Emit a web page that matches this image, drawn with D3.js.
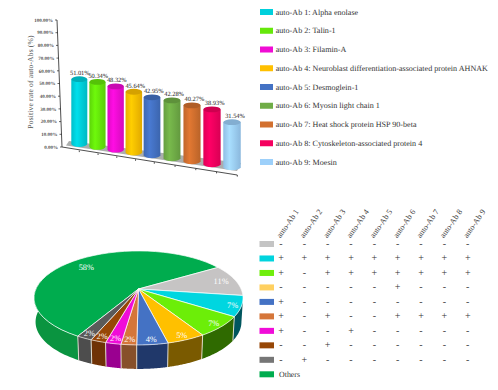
<!DOCTYPE html>
<html>
<head>
<meta charset="utf-8">
<script src="https://cdn.jsdelivr.net/npm/d3@7"></script>
<style>
  html, body { margin: 0; padding: 0; background: #fff; }
  svg { display: block; }
  text { font-family: "Liberation Serif", serif; text-rendering: geometricPrecision; }
</style>
</head>
<body>
<svg id="chart" width="498" height="390"></svg>
<script>
// bar chart values
const antigens = ["Alpha enolase", "Talin-1", "Filamin-A",
  "Neuroblast differentiation-associated protein AHNAK", "Desmoglein-1",
  "Myosin light chain 1", "Heat shock protein HSP 90-beta",
  "Cytoskeleton-associated protein 4", "Moesin"];
const positiveRate = [51.01, 50.34, 48.32, 45.64, 42.95, 42.28, 40.27, 38.93, 31.54];
const barColors = ["#00d0dc", "#66e80a", "#f00cd4", "#ffc000", "#4472c4", "#70ad47", "#d2702f", "#f5005f", "#9dd0fa"];
const rateTicks = [0, 10, 20, 30, 40, 50, 60, 70, 80, 90, 100];

// pie values, clockwise starting from the big green slice
const pieShares = [58, 11, 7, 7, 5, 4, 2, 2, 2, 2];
const pieColors = ["#00ac4e", "#c6c4c4", "#00d6e0", "#6cee08", "#ffc000", "#4472c4", "#d5763a", "#f00cd8", "#974706", "#5a5a5a"];
const pieWalls = ["#0a9440", "#8a8a8a", "#00565e", "#2f6a00", "#7a5a00", "#20386a", "#87502a", "#9a0090", "#6f3206", "#4d4d4d"];

// combination table
const comboColors = ["#c4c4c4", "#00d4de", "#70ee0c", "#ffd060", "#4472c4", "#d5763a", "#f00cd8", "#974706", "#767676", "#00ad4f"];
const comboRows = [
  "---------",
  "+++++++++",
  "+-+++++++",
  "-----+---",
  "+--------",
  "+-+--++++",
  "+--+-----",
  "--+------",
  "-+-------"
];

const svg = d3.select("#chart");
const defs = svg.append("defs");

// ---- 3D bars ----
const yAxisScale = d3.scaleLinear().domain([0, 100]).range([147, 20]);
const axisXAt = d3.scaleLinear().domain([0, 100]).range([62, 57]);
const barX = d3.scaleLinear().domain([0, 4, 8]).range([79.3, 152, 232]);
const barBase = d3.scaleLinear().domain([0, 4, 8]).range([144, 155.3, 167.3]);
const barWidth = d3.scaleLinear().domain([0, 8]).range([16, 17.5]);
// bars nearer to the viewer look taller
const pxPerPercent = d3.scaleLinear().domain([0, 8]).range([1.27, 1.43]);
const labelShift = d3.scaleLinear().domain([0, 8]).range([0.5, 3]);
const floorTick = d3.scaleLinear().domain([0, 4, 8]).range([79.3, 154.3, 237.3]);
const floorY = d3.scaleLinear().domain([79.3, 237.3]).range([150.5, 175]);

// floor shadow under the bars
svg.append("path")
  .attr("d", d3.line()([[69, 141], [241, 163], [237, 171], [66, 145.5]]))
  .attr("fill", "#8f9392")
  .attr("opacity", 0.75);

// axes
svg.append("line")
  .attr("x1", axisXAt(0)).attr("y1", yAxisScale(0))
  .attr("x2", axisXAt(100)).attr("y2", yAxisScale(100))
  .attr("stroke", "#222").attr("stroke-width", 0.8);
svg.append("line")
  .attr("x1", 62).attr("y1", 147)
  .attr("x2", 237.3).attr("y2", 175)
  .attr("stroke", "#222").attr("stroke-width", 0.8);

const yTicks = svg.append("g").selectAll("g").data(rateTicks).enter().append("g");
yTicks.append("line")
  .attr("x1", (d) => axisXAt(d) - 2).attr("x2", (d) => axisXAt(d))
  .attr("y1", (d) => yAxisScale(d)).attr("y2", (d) => yAxisScale(d))
  .attr("stroke", "#222").attr("stroke-width", 0.7);
yTicks.append("text")
  .attr("x", (d) => axisXAt(d) - 4)
  .attr("y", (d) => yAxisScale(d) + 1.7)
  .attr("text-anchor", "end")
  .attr("font-size", 5)
  .attr("font-weight", "bold")
  .attr("fill", "#555")
  .text((d) => d.toFixed(2) + "%");

svg.append("text")
  .attr("transform", "translate(33,82) rotate(-90)")
  .attr("text-anchor", "middle")
  .attr("font-size", 7.6)
  .attr("fill", "#555")
  .attr("letter-spacing", 0.15)
  .text("Positive rate of auto-Abs (%)");

svg.append("g").selectAll("line").data(d3.range(9)).enter().append("line")
  .attr("x1", (d) => floorTick(d)).attr("x2", (d) => floorTick(d))
  .attr("y1", (d) => floorY(floorTick(d))).attr("y2", (d) => floorY(floorTick(d)) + 1.6)
  .attr("stroke", "#222").attr("stroke-width", 0.8);

// cylinders
barColors.forEach((c, i) => {
  const g = defs.append("linearGradient").attr("id", `cyl${i}`);
  g.append("stop").attr("offset", "0%").attr("stop-color", d3.color(c).darker(0.25));
  g.append("stop").attr("offset", "35%").attr("stop-color", d3.color(c).brighter(0.2));
  g.append("stop").attr("offset", "100%").attr("stop-color", d3.color(c).darker(0.35));
});

const bars = svg.append("g").selectAll("g").data(positiveRate).enter().append("g");
const ry = 2.9;
bars.append("path")
  .attr("d", (d, i) => {
    const w = barWidth(i) / 2, x = barX(i), b = barBase(i), t = b - d * pxPerPercent(i);
    return `M${x - w},${t}L${x - w},${b}A${w},${ry} 0 0 0 ${x + w},${b}L${x + w},${t}Z`;
  })
  .attr("fill", (d, i) => `url(#cyl${i})`);
bars.append("ellipse")
  .attr("cx", (d, i) => barX(i))
  .attr("cy", (d, i) => barBase(i) - d * pxPerPercent(i))
  .attr("rx", (d, i) => barWidth(i) / 2)
  .attr("ry", ry)
  .attr("fill", (d, i) => d3.color(barColors[i]).darker(0.5));
bars.append("text")
  .attr("x", (d, i) => barX(i) + labelShift(i))
  .attr("y", (d, i) => barBase(i) - d * pxPerPercent(i) - 4)
  .attr("text-anchor", "middle")
  .attr("font-size", 6.4)
  .attr("fill", "#222")
  .text((d) => d.toFixed(2) + "%");

// legend
const legend = svg.append("g").selectAll("g").data(antigens).enter().append("g")
  .attr("transform", (d, i) => `translate(260,${12 + i * 18.75})`);
legend.append("rect")
  .attr("x", 0).attr("y", -3).attr("width", 13).attr("height", 6)
  .attr("fill", (d, i) => barColors[i]);
legend.append("text")
  .attr("x", 15.7).attr("y", 2.6)
  .attr("font-size", 8.1)
  .attr("fill", "#333")
  .text((d, i) => `auto-Ab ${i + 1}: ${d}`);

// ---- 3D pie ----
const apex = [138.5, 289];
const depth = 24;
const tilt = 0.19, fx = 102.6, fy = 45.3;

// perspective projection of a point on the unit disc, angle clockwise from the back
const project = (angle, r = 1, drop = 0) => {
  const u = r * Math.sin(angle), v = -r * Math.cos(angle);
  const w = 1 - tilt * v;
  const shrink = drop ? 0.985 : 1;
  return [apex[0] + u * fx / w * shrink, apex[1] + v * fy / w + drop];
};

const startAngle = (209.6 * Math.PI) / 180;
const pie = d3.pie().sort(null).startAngle(startAngle).endAngle(startAngle + 2 * Math.PI);
const slices = pie(pieShares);
const line = d3.line();

const arcPoints = (a0, a1, drop = 0) =>
  d3.range(0, 41).map((k) => project(a0 + ((a1 - a0) * k) / 40, 1, drop));

// side walls first, only the part of the rim facing the viewer
const wallFrom = (101 * Math.PI) / 180;
const wallTo = (281 * Math.PI) / 180;
const wallPieces = [];
slices.forEach((s, i) => {
  [0, 2 * Math.PI, -2 * Math.PI].forEach((shift) => {
    const a0 = Math.max(s.startAngle + shift, wallFrom);
    const a1 = Math.min(s.endAngle + shift, wallTo);
    if (a1 > a0) wallPieces.push({ a0, a1, i });
  });
});
svg.append("g").selectAll("path").data(wallPieces).enter().append("path")
  .attr("d", (d) => line(arcPoints(d.a0, d.a1).concat(arcPoints(d.a0, d.a1, depth).reverse())) + "Z")
  .attr("fill", (d) => pieWalls[d.i]);

// pale edges between the wall pieces
const wallEdges = slices
  .map((s) => (s.startAngle > 2 * Math.PI ? s.startAngle - 2 * Math.PI : s.startAngle))
  .filter((a) => a > wallFrom && a < wallTo);
svg.append("g").selectAll("path").data(wallEdges).enter().append("path")
  .attr("d", (a) => line([project(a, 1), project(a, 1, depth)]))
  .attr("stroke", "#e8e4d8")
  .attr("stroke-width", 0.9);

// top face
svg.append("g").selectAll("path").data(slices).enter().append("path")
  .attr("d", (d) => line([apex].concat(arcPoints(d.startAngle, d.endAngle))) + "Z")
  .attr("fill", (d, i) => pieColors[i])
  .attr("stroke", "#fff")
  .attr("stroke-width", 0.7);

svg.append("g").selectAll("text").data(slices).enter().append("text")
  .attr("transform", (d) => {
    const r = d.value > 50 ? 0.78 : d.value > 10 ? 0.85 : 0.92;
    const p = project((d.startAngle + d.endAngle) / 2, r);
    return `translate(${p[0]},${p[1]})`;
  })
  .attr("y", 3)
  .attr("text-anchor", "middle")
  .attr("font-size", 8.4)
  .attr("fill", "#fff")
  .text((d) => d.value + "%");

// ---- combination table ----
const colX = d3.scaleLinear().domain([0, 8]).range([281, 467.7]);
const rowY = d3.scaleLinear().domain([0, 9]).range([244, 374.3]);

svg.append("g").selectAll("text").data(d3.range(9)).enter().append("text")
  .attr("transform", (d) => `translate(${colX(d) - 0.5},${238.5}) rotate(-55)`)
  .attr("font-size", 8.1)
  .attr("fill", "#444")
  .text((d) => `auto-Ab ${d + 1}`);

svg.append("g").selectAll("rect").data(comboColors).enter().append("rect")
  .attr("x", 259.5)
  .attr("y", (d, i) => rowY(i) - 3)
  .attr("width", 14.5)
  .attr("height", 6)
  .attr("fill", (d) => d);

comboRows.forEach((row, r) => {
  svg.append("g").selectAll("text").data(row.split("")).enter().append("text")
    .attr("x", (d, i) => colX(i))
    .attr("y", rowY(r) + 3)
    .attr("text-anchor", "middle")
    .attr("font-size", 10)
    .attr("fill", "#333")
    .text((d) => d);
});

svg.append("text")
  .attr("x", 279).attr("y", rowY(9) + 2.6)
  .attr("font-size", 7.9)
  .attr("fill", "#333")
  .text("Others");
</script>
</body>
</html>
